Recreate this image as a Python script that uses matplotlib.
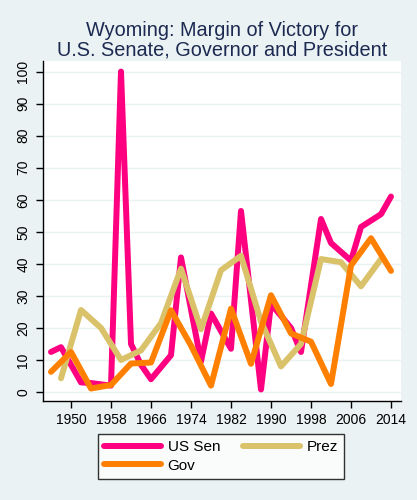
import matplotlib
matplotlib.use("Agg")
import matplotlib.pyplot as plt

plt.rcParams['font.family'] = ['Liberation Sans', 'DejaVu Sans']

sen_years = [1946, 1948, 1952, 1954, 1958, 1960, 1962, 1964, 1966, 1970, 1972, 1976,
             1978, 1982, 1984, 1988, 1990, 1994, 1996, 2000, 2002, 2006, 2008, 2012, 2014]
sen_vals = [12.5, 14, 3, 2.8, 2, 100, 15, 8.5, 4, 11.5, 42, 9.5,
            24.5, 13.5, 56.5, 0.8, 27.5, 20, 12.5, 54, 46.5, 41, 51.5, 55.5, 61]

prez_years = [1948, 1952, 1956, 1960, 1964, 1968, 1972, 1976, 1980, 1984, 1988,
              1992, 1996, 2000, 2004, 2008, 2012]
prez_vals = [4.3, 25.6, 20, 10, 13, 21.5, 38.5, 19.6, 38, 42.5, 22,
             8, 15, 41.5, 40.5, 33, 41.5]

gov_years = [1946, 1950, 1954, 1958, 1962, 1966, 1970, 1974, 1978, 1982, 1986,
             1990, 1994, 1998, 2002, 2006, 2010, 2014]
gov_vals = [6.3, 12.5, 1.1, 2.2, 8.9, 9.2, 25.5, 14.5, 2, 26, 8.8,
            30.2, 18.3, 15.7, 2.5, 39.5, 48, 37.8]

x_ticks = list(range(1950, 2015, 8))
y_ticks = list(range(0, 101, 10))

title = "Wyoming: Margin of Victory for\nU.S. Senate, Governor and President"
labels = ["US Sen", "Prez", "Gov"]
colors = ["#FF0080", "#D9C26A", "#FF8000"]

bg = "#EAF2F3"
fig = plt.figure(figsize=(4.17, 5.0), dpi=100, facecolor=bg)
ax = fig.add_axes([42.7/417, 1-401/500, (401-42.7)/417, (401-61)/500])
ax.set_facecolor("white")

lw = 4.3
kw = dict(lw=lw, solid_capstyle='round', solid_joinstyle='round')
l1, = ax.plot(sen_years, sen_vals, color=colors[0], label=labels[0], **kw)
l2, = ax.plot(prez_years, prez_vals, color=colors[1], label=labels[1], **kw)
l3, = ax.plot(gov_years, gov_vals, color=colors[2], label=labels[2], **kw)

ax.set_xlim(1944.34, 2016.0)
ax.set_ylim(-2.8, 103.3)
ax.set_xticks(x_ticks)
ax.set_yticks(y_ticks)
ax.set_yticklabels([str(v) for v in y_ticks], rotation=90, va='center')
ax.tick_params(axis='both', labelsize=10, length=5, width=1, color='black', labelcolor='black')
ax.tick_params(axis='y', pad=4)
ax.grid(axis='y', color=bg, lw=1)
ax.set_axisbelow(True)
for s in ['top', 'right']:
    ax.spines[s].set_visible(False)
for s in ['left', 'bottom']:
    ax.spines[s].set_color('black')
    ax.spines[s].set_linewidth(1)

fig.text(222/417, 1-21/500, title, ha='center', va='top', fontsize=14.3,
         color='#1C2A52', linespacing=1.0)

leg = fig.legend([l1, l3, l2], [labels[0], labels[2], labels[1]], ncol=2,
                 loc='center', bbox_to_anchor=(221/417, 1-456.3/500),
                 fontsize=11, handlelength=3.7, handletextpad=0.45,
                 borderpad=0.4, labelspacing=0.3, columnspacing=1.5,
                 fancybox=False, frameon=True, borderaxespad=0)
leg.get_frame().set_edgecolor('black')
leg.get_frame().set_linewidth(1)
leg.get_frame().set_facecolor('white')
for h in leg.get_lines():
    h.set_linewidth(lw)
    h.set_solid_capstyle('round')

fig.savefig("out.png", dpi=100, facecolor=bg)
